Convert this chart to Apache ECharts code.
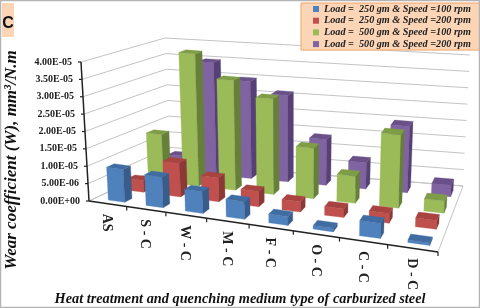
<!DOCTYPE html>
<html><head><meta charset="utf-8">
<style>html,body{margin:0;padding:0;background:#fff}#c{width:480px;height:308px;filter:blur(0.45px)}</style>
<script src="https://cdn.jsdelivr.net/npm/echarts@6/dist/echarts.min.js"></script>
</head><body><div id="c"></div>
<script>
const categories = ['AS','S - C','W - C','M - C','F - C','O - C','C - C','D - C'];
const seriesNames = ['Load =  250 gm & Speed =100 rpm','Load =  250 gm & Speed =200 rpm','Load =  500 gm & Speed =100 rpm','Load =  500 gm & Speed =200 rpm'];
const blue   = [0.95e-5,0.88e-5,0.62e-5,0.50e-5,0.25e-5,0.10e-5,0.42e-5,0.07e-5];
const red    = [0.35e-5,1.00e-5,0.70e-5,0.45e-5,0.30e-5,0.25e-5,0.28e-5,0.25e-5];
const green  = [1.45e-5,4.00e-5,3.30e-5,2.85e-5,1.50e-5,0.80e-5,2.15e-5,0.35e-5];
const purple = [0.50e-5,3.50e-5,3.00e-5,2.65e-5,1.40e-5,0.80e-5,2.00e-5,0.35e-5];
const yTicks = [0,5e-6,1e-5,1.5e-5,2e-5,2.5e-5,3e-5,3.5e-5,4e-5];
const yTickLabels = ['0.00E+00','5.00E-06','1.00E-05','1.50E-05','2.00E-05','2.50E-05','3.00E-05','3.50E-05','4.00E-05'];
const faces = [['#4F81BD','#385D8A','#3F6DA3'],['#C0504D','#8C3836','#A8433F'],['#9BBB59','#66803A','#7F9C46'],['#8064A2','#574075','#6A5089']];

const FB=[[89,201],[438,252],[463,186],[170,163]];
const FT=[[81,62],[444,106],[470,55],[165,38]];
const PERSP=1.18;
function bil(q,u,v){
  const s=u/(u+PERSP*(1-u));
  const a=[q[0][0]+(q[1][0]-q[0][0])*s,q[0][1]+(q[1][1]-q[0][1])*s];
  const b=[q[3][0]+(q[2][0]-q[3][0])*s,q[3][1]+(q[2][1]-q[3][1])*s];
  return [a[0]+(b[0]-a[0])*v,a[1]+(b[1]-a[1])*v];
}
// depth is in row slots 0..4; horizontal/vertical fractions come from the chart's own axes
function proj(api,cs,x,row,val){
  const p=api.coord([x,val]);
  const u=(p[0]-cs.x)/cs.width, t=1-(p[1]-cs.y)/cs.height, v=row/4;
  const a=bil(FB,u,v),b=bil(FT,u,v);
  return [a[0]+(b[0]-a[0])*t,a[1]+(b[1]-a[1])*t];
}
const poly=(pts,fill)=>({type:'polygon',shape:{points:pts},style:{fill:fill,stroke:fill,lineWidth:0.3}});
const line=(a,b,col,w)=>({type:'line',shape:{x1:a[0],y1:a[1],x2:b[0],y2:b[1]},style:{stroke:col,lineWidth:w}});
function barSeries(i,vals){
  return {name:seriesNames[i],type:'custom',coordinateSystem:'cartesian2d',z:10-i,silent:true,
    itemStyle:{color:faces[i][0]},
    encode:{x:0,y:1},
    data:vals.map((v,k)=>[k,v]),
    renderItem(params,api){
      const cs=params.coordSys,k=api.value(0),v=api.value(1);
      const x0=k+0.36+0.02*(i>1?1:0),x1=k+0.80+0.02*(i>1?1:0),d0=i+0.30,d1=i+0.68;
      const P=(x,d,val)=>proj(api,cs,x,d,val);
      return {type:'group',children:[
        poly([P(x0,d0,v),P(x1,d0,v),P(x1,d0,0),P(x0,d0,0)],faces[i][0]),
        poly([P(x1,d0,v),P(x1,d1,v),P(x1,d1,0),P(x1,d0,0)],faces[i][1]),
        poly([P(x0,d0,v),P(x1,d0,v),P(x1,d1,v),P(x0,d1,v)],faces[i][2])
      ]};
    }};
}
const serif='"Liberation Serif"';
const gridSeries={type:'custom',coordinateSystem:'cartesian2d',z:1,silent:true,encode:{x:0,y:1},
  data:yTicks.map((t,i)=>[0,t,i]),
  renderItem(params,api){
    const cs=params.coordSys,t=api.value(1),i=api.value(2);
    const a=proj(api,cs,0,0,t),b=proj(api,cs,0,4,t),c=proj(api,cs,8,4,t);
    return {type:'group',children:[
      line(a,b,'#c4c4c4',1),line(b,c,'#c4c4c4',1),
      line([a[0]-3,a[1]],a,'#222',1.2),
      {type:'text',style:{x:a[0]-9,y:a[1],text:yTickLabels[i],align:'right',verticalAlign:'middle',font:'bold 10px '+serif,fill:'#222'}}
    ]};
  }};
const axisSeries={type:'custom',coordinateSystem:'cartesian2d',z:2,silent:true,encode:{x:0,y:1},
  data:[[0,0]],
  renderItem(params,api){
    const cs=params.coordSys,P=(x,d,v)=>proj(api,cs,x,d,v);
    return {type:'group',children:[
      line(P(8,0,0),P(8,4,0),'#c4c4c4',1),
      line(P(0,4,0),P(8,4,0),'#c4c4c4',1),
      line(P(0,0,0),P(0,4,0),'#c4c4c4',1)
    ]};
  }};
const frontSeries={type:'custom',coordinateSystem:'cartesian2d',z:20,silent:true,encode:{x:0,y:1},
  data:[[0,0,4e-5]],
  renderItem(params,api){
    const cs=params.coordSys,P=(x,d,v)=>proj(api,cs,x,d,v);
    return {type:'group',children:[
      line(P(0,0,0),P(0,0,api.value(2)),'#222',1.5),
      line(P(0,0,0),P(8,0,0),'#222',1.5)
    ]};
  }};
const catSeries={type:'custom',coordinateSystem:'cartesian2d',z:20,silent:true,encode:{x:0,y:1},
  data:categories.map((c,i)=>[i,0]),
  renderItem(params,api){
    const cs=params.coordSys,k=api.value(0);
    const t=proj(api,cs,k+1,0,0),m=proj(api,cs,k+0.5,0,0);
    return {type:'group',children:[
      line(t,[t[0],t[1]+4],'#222',1.2),
      {type:'text',x:m[0]-1,y:m[1]+10,rotation:-Math.PI/2,style:{x:0,y:0,text:categories[k],align:'left',verticalAlign:'middle',font:'bold 14px '+serif,fill:'#222'}}
    ]};
  }};
const chart=echarts.init(document.getElementById('c'),null,{renderer:'canvas'});
chart.setOption({
  animation:false,backgroundColor:'#fff',
  grid:{left:0,right:0,top:0,bottom:0},
  xAxis:{type:'value',min:0,max:8,interval:1,show:false},
  yAxis:{type:'value',min:0,max:4e-5,interval:5e-6,show:false},
  legend:{show:true,orient:'vertical',left:301,top:3,itemWidth:6,itemHeight:6,itemGap:1.7,icon:'rect',
    backgroundColor:'#FBD5B5',borderColor:'#F2A468',borderWidth:1,padding:[1,10,1,12],selectedMode:false,
    textStyle:{fontFamily:'Liberation Serif',fontSize:10.2,fontWeight:'bold',fontStyle:'italic',color:'#222',lineHeight:10},
    data:seriesNames},
  graphic:[
    {type:'rect',z:50,shape:{x:0.5,y:0.5,width:479,height:307},style:{fill:'none',stroke:'#b4b4b4',lineWidth:1.5}},
    {type:'rect',z:51,shape:{x:2,y:3,width:12,height:34},style:{fill:'#FBD5B5'}},
    {type:'text',z:52,style:{x:8,y:24,text:'C',align:'center',verticalAlign:'middle',font:'bold 16px "Liberation Sans"',fill:'#111'}},
    {type:'text',z:52,x:12,y:160,rotation:Math.PI/2,style:{x:0,y:0,text:'Wear coefficient (W), mm³/N.m',align:'center',verticalAlign:'middle',font:'italic bold 17px '+serif,fill:'#111'}},
    {type:'text',z:52,style:{x:240,y:299,text:'Heat treatment and quenching medium type of carburized steel',align:'center',verticalAlign:'middle',font:'italic bold 14.3px '+serif,fill:'#111'}}
  ],
  series:[barSeries(0,blue),barSeries(1,red),barSeries(2,green),barSeries(3,purple),gridSeries,axisSeries,frontSeries,catSeries]
});
</script></body></html>
